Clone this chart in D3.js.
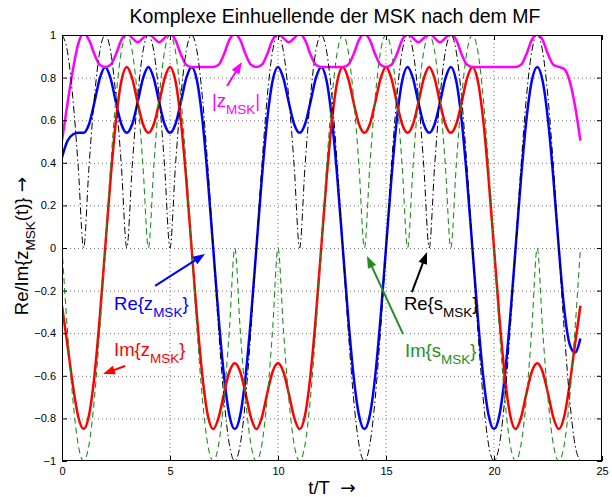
<!DOCTYPE html>
<html><head><meta charset="utf-8">
<script src="https://cdn.jsdelivr.net/npm/d3@7"></script>
<style>
body{margin:0;background:#fff;}
text{font-family:"Liberation Sans",Arial,Helvetica,sans-serif;}
</style></head><body>
<svg id="chart" width="612" height="497"></svg>
<script>
// ---------------- data ----------------
const xTicks = [0, 5, 10, 15, 20, 25];
const yTicks = [-1, -0.8, -0.6, -0.4, -0.2, 0, 0.2, 0.4, 0.6, 0.8, 1];
const tStep = 0.25; // sample spacing in t/T

// Re{s_MSK} (black dash-dot)
const reS = [1,0.924,0.707,0.383,0,
0.383,0.707,0.924,1,0.924,0.707,0.383,0,
0.383,0.707,0.924,1,0.924,0.707,0.383,0,
0.383,0.707,0.924,1,0.924,0.707,0.383,0,
-0.383,-0.707,-0.924,-1,-0.924,-0.707,-0.383,0,
0.383,0.707,0.924,1,0.924,0.707,0.383,0,
0.383,0.707,0.924,1,0.924,0.707,0.383,0,
-0.383,-0.707,-0.924,-1,-0.924,-0.707,-0.383,0,
0.383,0.707,0.924,1,0.924,0.707,0.383,0,
0.383,0.707,0.924,1,0.924,0.707,0.383,0,
-0.383,-0.707,-0.924,-1,-0.924,-0.707,-0.383,0,
0.383,0.707,0.924,1,0.924,0.707,0.383,0,
-0.383,-0.707,-0.924,-1];

// Im{s_MSK} (green dashed)
const imS = [0,-0.383,-0.707,-0.924,-1,-0.924,-0.707,-0.383,0,
0.383,0.707,0.924,1,0.924,0.707,0.383,0,
0.383,0.707,0.924,1,0.924,0.707,0.383,0,
-0.383,-0.707,-0.924,-1,-0.924,-0.707,-0.383,0,
-0.383,-0.707,-0.924,-1,-0.924,-0.707,-0.383,0,
-0.383,-0.707,-0.924,-1,-0.924,-0.707,-0.383,0,
0.383,0.707,0.924,1,0.924,0.707,0.383,0,
0.383,0.707,0.924,1,0.924,0.707,0.383,0,
0.383,0.707,0.924,1,0.924,0.707,0.383,0,
0.383,0.707,0.924,1,0.924,0.707,0.383,0,
-0.383,-0.707,-0.924,-1,-0.924,-0.707,-0.383,0,
-0.383,-0.707,-0.924,-1,-0.924,-0.707,-0.383,0];

// Re{z_MSK} (blue)
const reZ = [0.425,0.502,0.533,0.541,0.541,0.581,0.683,0.796,0.85,
0.796,0.683,0.581,0.541,0.581,0.683,0.796,0.85,
0.796,0.683,0.581,0.541,0.581,0.683,0.796,0.85,
0.785,0.601,0.325,0,-0.325,-0.601,-0.785,-0.85,
-0.785,-0.601,-0.325,0,0.325,0.601,0.785,0.85,
0.796,0.683,0.581,0.541,0.581,0.683,0.796,0.85,
0.785,0.601,0.325,0,-0.325,-0.601,-0.785,-0.85,
-0.785,-0.601,-0.325,0,0.325,0.601,0.785,0.85,
0.796,0.683,0.581,0.541,0.581,0.683,0.796,0.85,
0.785,0.601,0.325,0,-0.325,-0.601,-0.785,-0.85,
-0.785,-0.601,-0.325,0,0.325,0.601,0.785,0.85,
0.785,0.601,0.325,0,-0.285,-0.451,-0.491,-0.425];

// Im{z_MSK} (red)
const imZ = [-0.271,-0.453,-0.642,-0.791,-0.85,
-0.785,-0.601,-0.325,0,0.325,0.601,0.785,0.85,
0.796,0.683,0.581,0.541,0.581,0.683,0.796,0.85,
0.785,0.601,0.325,0,-0.325,-0.601,-0.785,-0.85,
-0.796,-0.683,-0.581,-0.541,-0.581,-0.683,-0.796,-0.85,
-0.796,-0.683,-0.581,-0.541,-0.581,-0.683,-0.796,-0.85,
-0.785,-0.601,-0.325,0,0.325,0.601,0.785,0.85,
0.796,0.683,0.581,0.541,0.581,0.683,0.796,0.85,
0.796,0.683,0.581,0.541,0.581,0.683,0.796,0.85,
0.796,0.683,0.581,0.541,0.581,0.683,0.796,0.85,
0.785,0.601,0.325,0,-0.325,-0.601,-0.785,-0.85,
-0.796,-0.683,-0.581,-0.541,-0.581,-0.683,-0.796,-0.85,
-0.791,-0.642,-0.453,-0.271];

// |z_MSK| (magenta)
const absZ = [0.504,0.676,0.834,0.958,1.008,0.977,0.910,0.860,0.85,
0.860,0.910,0.977,1.008,0.986,0.966,0.986,1.008,
0.986,0.966,0.986,1.008,0.977,0.910,0.860,0.85,
0.85,0.85,0.85,0.85,0.860,0.910,0.977,1.008,
0.977,0.910,0.860,0.85,0.860,0.910,0.977,1.008,
0.986,0.966,0.986,1.008,0.977,0.910,0.860,0.85,
0.85,0.85,0.85,0.85,0.860,0.910,0.977,1.008,
0.977,0.910,0.860,0.85,0.860,0.910,0.977,1.008,
0.986,0.966,0.986,1.008,0.986,0.966,0.986,1.008,
0.977,0.910,0.860,0.85,0.85,0.85,0.85,0.85,
0.85,0.85,0.85,0.85,0.860,0.910,0.977,1.008,
0.977,0.910,0.860,0.85,0.840,0.785,0.668,0.504];

const t = reS.map((_, i) => i * tStep);

// ---------------- layout ----------------
const W = 612, H = 497;
const L = 62, R = 602, T = 35, B = 461;
const svg = d3.select("#chart");
svg.append("rect").attr("width", W).attr("height", H).attr("fill", "#fff");

const x = d3.scaleLinear().domain([0, 25]).range([L, R]);
const y = d3.scaleLinear().domain([-1, 1]).range([B, T]);

// grid
const grid = svg.append("g").attr("class", "grid");
grid.selectAll("line.gx").data(xTicks.slice(1, -1)).join("line")
  .attr("x1", d => x(d)).attr("x2", d => x(d)).attr("y1", T).attr("y2", B)
  .attr("stroke", "#7a7a7a").attr("stroke-width", 1).attr("stroke-dasharray", "1,3");
grid.selectAll("line.gy").data(yTicks.slice(1, -1)).join("line")
  .attr("x1", L).attr("x2", R).attr("y1", d => y(d) + 0.5).attr("y2", d => y(d) + 0.5)
  .attr("stroke", "#7a7a7a").attr("stroke-width", 1).attr("stroke-dasharray", "1,3");

// clip
svg.append("clipPath").attr("id", "clip").append("rect")
  .attr("x", L).attr("y", T).attr("width", R - L).attr("height", B - T);

const plot = svg.append("g").attr("clip-path", "url(#clip)");
const line = arr => d3.line().x((d, i) => x(t[i])).y(d => y(d)).curve(d3.curveMonotoneX)(arr);

plot.append("path").attr("d", line(reZ)).attr("fill", "none").attr("stroke", "#0000ff").attr("stroke-width", 2.5);
plot.append("path").attr("d", line(imZ)).attr("fill", "none").attr("stroke", "#ff0000").attr("stroke-width", 2.5);
plot.append("path").attr("d", line(absZ)).attr("fill", "none").attr("stroke", "#ff00ff").attr("stroke-width", 2.5);
plot.append("path").attr("d", line(reS)).attr("fill", "none").attr("stroke", "#000").attr("stroke-width", 1)
  .attr("stroke-dasharray", "7,3,1.5,3");
plot.append("path").attr("d", line(imS)).attr("fill", "none").attr("stroke", "#1f8f1f").attr("stroke-width", 1.1)
  .attr("stroke-dasharray", "6,4");

// axes (ticks inward)
const fmt = d3.format("~g");
const axB = svg.append("g").attr("transform", `translate(0,${B})`)
  .call(d3.axisBottom(x).tickValues(xTicks).tickSizeInner(-5).tickSizeOuter(0).tickPadding(6).tickFormat(fmt));
const axL = svg.append("g").attr("transform", `translate(${L},0)`)
  .call(d3.axisLeft(y).tickValues(yTicks).tickSizeInner(-5).tickSizeOuter(0).tickPadding(6).tickFormat(fmt));
const axT = svg.append("g").attr("transform", `translate(0,${T})`)
  .call(d3.axisTop(x).tickValues(xTicks).tickSizeInner(-5).tickSizeOuter(0).tickFormat(""));
const axR = svg.append("g").attr("transform", `translate(${R},0)`)
  .call(d3.axisRight(y).tickValues(yTicks).tickSizeInner(-5).tickSizeOuter(0).tickFormat(""));
[axB, axL, axT, axR].forEach(a => {
  a.select(".domain").remove();
  a.selectAll("text").attr("font-size", 11).attr("fill", "#000")
    .attr("font-family", "'Liberation Sans',Arial,Helvetica,sans-serif");
  a.selectAll("line").attr("stroke", "#000");
});
svg.append("rect").attr("x", L + 0.5).attr("y", T + 0.5).attr("width", R - L - 1).attr("height", B - T - 1)
  .attr("fill", "none").attr("stroke", "#000").attr("stroke-width", 1);

// title & labels
svg.append("text").attr("x", 335).attr("y", 23).attr("text-anchor", "middle")
  .attr("font-size", 19.5).text("Komplexe Einhuellende der MSK nach dem MF");

const xl = svg.append("text").attr("x", 332).attr("y", 494).attr("text-anchor", "middle")
  .attr("font-size", 18.5);
xl.append("tspan").text("t/T\u00a0\u00a0");
xl.append("tspan").attr("font-family", "'DejaVu Sans',sans-serif").text("\u2192");

const yl = svg.append("text").attr("transform", `translate(28,246) rotate(-90)`)
  .attr("text-anchor", "middle").attr("font-size", 18.5);
yl.append("tspan").text("Re/Im{z");
yl.append("tspan").attr("font-size", 13.5).attr("dy", 7).text("MSK");
yl.append("tspan").attr("dy", -7).text("(t)}\u00a0");
yl.append("tspan").attr("font-family", "'DejaVu Sans',sans-serif").text("\u2192");

// annotations
const notes = [
  {pre: "|z", sub: "MSK", post: "|", color: "#ff00ff", tx: 6.94, ty: 0.662, a: [7.64, 0.761, 8.33, 0.873]},
  {pre: "Re{z", sub: "MSK", post: "}", color: "#0000ff", tx: 2.41, ty: -0.291, a: [4.31, -0.178, 6.62, -0.028]},
  {pre: "Im{z", sub: "MSK", post: "}", color: "#ff0000", tx: 2.41, ty: -0.507, a: [2.92, -0.554, 1.90, -0.592]},
  {pre: "Re{s", sub: "MSK", post: "}", color: "#000000", tx: 15.83, ty: -0.291, a: [16.2, -0.207, 16.9, -0.019]},
  {pre: "Im{s", sub: "MSK", post: "}", color: "#1f8f1f", tx: 15.88, ty: -0.512, a: [15.79, -0.404, 14.12, -0.038]}
];
notes.forEach(n => {
  const tx = svg.append("text").attr("x", x(n.tx)).attr("y", y(n.ty)).attr("fill", n.color).attr("font-size", 18.5);
  tx.append("tspan").text(n.pre);
  tx.append("tspan").attr("font-size", 13.5).attr("dy", 7).text(n.sub);
  tx.append("tspan").attr("dy", -7).text(n.post);
  const x1 = x(n.a[0]), y1 = y(n.a[1]), x2 = x(n.a[2]), y2 = y(n.a[3]);
  const dx = x2 - x1, dy = y2 - y1, len = Math.hypot(dx, dy);
  const ux = dx / len, uy = dy / len, hl = 12, hw = 4.5;
  const bx = x2 - ux * hl, by = y2 - uy * hl;
  svg.append("line").attr("x1", x1).attr("y1", y1).attr("x2", bx + ux * 2).attr("y2", by + uy * 2)
    .attr("stroke", n.color).attr("stroke-width", 2);
  svg.append("polygon")
    .attr("points", [[x2, y2], [bx - uy * hw, by + ux * hw], [bx + uy * hw, by - ux * hw]].map(p => p.join(",")).join(" "))
    .attr("fill", n.color);
});
</script>
</body></html>
